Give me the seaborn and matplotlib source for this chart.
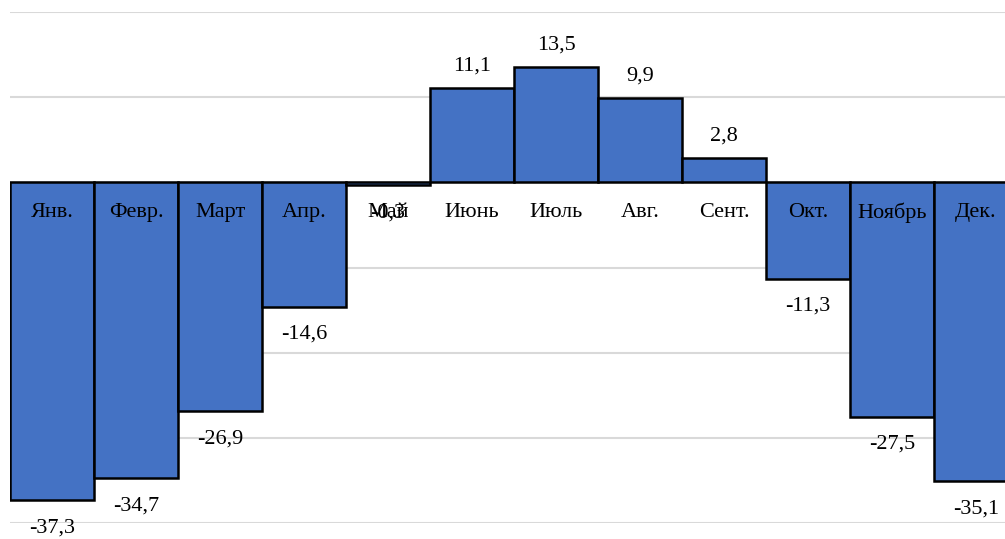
import matplotlib
matplotlib.use("Agg")
import matplotlib.pyplot as plt
import seaborn as sns
import pandas as pd

months = ["Янв.", "Февр.", "Март", "Апр.", "Май", "Июнь", "Июль", "Авг.", "Сент.", "Окт.", "Ноябрь", "Дек."]
values = [-37.3, -34.7, -26.9, -14.6, -0.3, 11.1, 13.5, 9.9, 2.8, -11.3, -27.5, -35.1]

sns.set_theme(style="white")
plt.rcParams['font.family'] = ['Liberation Serif', 'DejaVu Serif']

df = pd.DataFrame({"month": months, "value": values})

fig = plt.figure(figsize=(10.05, 5.39), dpi=100)
# plot area extends slightly beyond right edge (cropped like the reference)
ax = fig.add_axes([10/1005, 1 - 523/539, (1018 - 10)/1005, (523 - 12)/539])

sns.barplot(data=df, x="month", y="value", color="#4472C4", saturation=1,
            width=1.0, edgecolor="black", linewidth=1.8, ax=ax, zorder=3)

ax.set_ylim(-40, 20)
ax.set_xlim(-0.5, 11.5)
ax.set_yticks(range(-40, 21, 10))
ax.yaxis.grid(True, color="#D9D9D9", linewidth=1.5, zorder=0)
ax.set_axisbelow(True)
for s in ax.spines.values():
    s.set_visible(False)
ax.set_xticks([])
ax.set_yticklabels([])
ax.tick_params(left=False, bottom=False)
ax.set_xlabel("")
ax.set_ylabel("")

fs = 16
for i, (m, v) in enumerate(zip(months, values)):
    ax.annotate(m, (i, 0), xytext=(0, -22), textcoords="offset points",
                ha="center", va="center", fontsize=fs, color="black", zorder=5,
                annotation_clip=False)
    lab = f"{v:.1f}".replace(".", ",")
    off = 16 if v >= 0 else -20
    ax.annotate(lab, (i, v), xytext=(0, off), textcoords="offset points",
                ha="center", va="center", fontsize=fs, color="black", zorder=5,
                annotation_clip=False)

fig.savefig("out.png", dpi=100)
